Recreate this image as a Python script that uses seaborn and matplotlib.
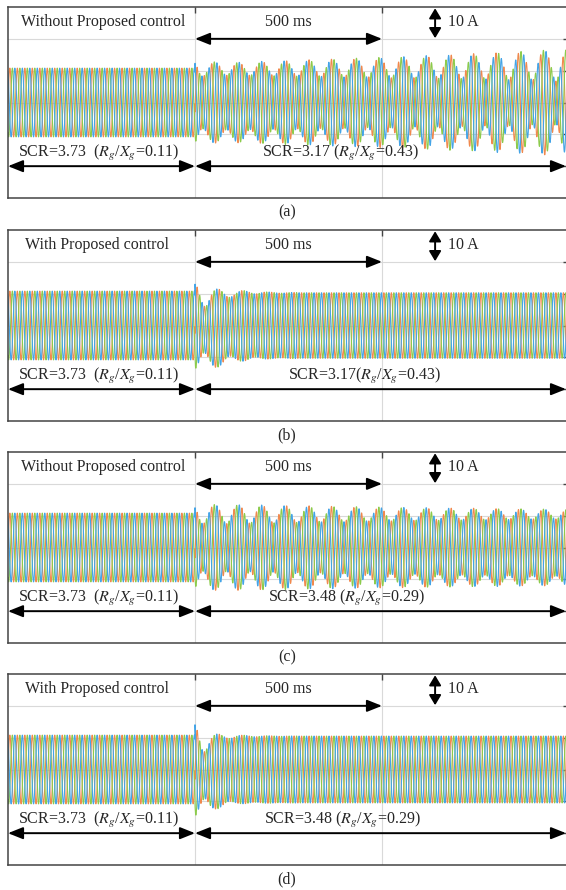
import numpy as np
import pandas as pd
import matplotlib
matplotlib.use("Agg")
import matplotlib.pyplot as plt
import seaborn as sns

# ---------------- data ----------------
panel_labels = ["(a)", "(b)", "(c)", "(d)"]
control_labels = ["Without Proposed control", "With Proposed control",
                  "Without Proposed control", "With Proposed control"]
scr_before = "SCR=3.73  ($R_g$/$X_g$=0.11)"
scr_after = ["SCR=3.17 ($R_g$/$X_g$=0.43)", "SCR=3.17($R_g$/$X_g$=0.43)",
             "SCR=3.48 ($R_g$/$X_g$=0.29)", "SCR=3.48 ($R_g$/$X_g$=0.29)"]
time_label = "500 ms"
amp_label = "10 A"

grid_freq = 50.0          # Hz fundamental
t_change = 0.5            # s, instant of grid change
t_end = 1.5               # s, 3 divisions of 500 ms
pre_amp = 10.8            # A, current amplitude before change

# post-change envelope knots per panel: fundamental (A), oscillatory
# sub-synchronous component (A), offset (A)
a_knot_t = [0.50, 0.52, 0.60, 0.80, 1.00, 1.20, 1.40, 1.50]
a_fund   = [10.6, 10.6, 10.6, 10.8, 11.0, 11.3, 11.6, 11.8]
a_sso    = [3.5, 2.3, 2.0, 2.6, 3.2, 3.8, 4.6, 5.2]
a_offset = [0.0, 0.0, 0.0, 0.0, 0.0, 0.0, 0.0, 0.0]

b_knot_t = [0.50, 0.53, 0.56, 0.60, 0.65, 0.70, 0.80, 1.50]
b_fund   = [10.4, 10.4, 10.4, 10.4, 10.4, 10.3, 10.3, 10.3]
b_sso    = [4.0, 3.0, 1.9, 1.0, 0.5, 0.2, 0.0, 0.0]
b_offset = [0.0, -1.5, -0.8, -0.3, 0.0, 0.0, 0.0, 0.0]

c_knot_t = [0.50, 0.52, 0.60, 0.80, 1.00, 1.20, 1.40, 1.50]
c_fund   = [10.5, 10.5, 10.5, 10.5, 10.5, 10.5, 10.5, 10.5]
c_sso    = [3.8, 3.0, 3.0, 2.6, 2.2, 1.9, 1.6, 1.5]
c_offset = [0.0, 0.0, 0.0, 0.0, 0.0, 0.0, 0.0, 0.0]

d_knot_t = [0.50, 0.52, 0.55, 0.58, 0.62, 0.70, 0.80, 1.50]
d_fund   = [10.5, 10.5, 10.5, 10.5, 10.5, 10.5, 10.5, 10.5]
d_sso    = [5.0, 3.5, 1.5, 0.8, 0.3, 0.1, 0.0, 0.0]
d_offset = [0.0, -2.0, -0.8, -0.2, 0.0, 0.0, 0.0, 0.0]

beat_hz = [15.9, 14.7, 15.9, 14.7]        # envelope oscillation frequency
beat_phase = [-0.99, -0.65, -0.99, -0.65]  # rad, at change instant

scr_after_x = [0.888, 0.952, 0.904, 0.893]   # data x (s)
control_x = [0.254, 0.238, 0.254, 0.238]
phase_colors = ["#F0894E", "#8CCB4C", "#44A4E6"]
phase_names = ["a", "b", "c"]

knots = [(a_knot_t, a_fund, a_sso, a_offset), (b_knot_t, b_fund, b_sso, b_offset),
         (c_knot_t, c_fund, c_sso, c_offset), (d_knot_t, d_fund, d_sso, d_offset)]

# ---------------- figure ----------------
sns.set_theme(style="white")
plt.rcParams["font.family"] = ["Liberation Serif", "DejaVu Serif"]
plt.rcParams["mathtext.fontset"] = "stix"

W, H = 566, 890
fig = plt.figure(figsize=(W / 100, H / 100), dpi=100)
tops = [7, 230, 452, 674]
box_h = 191
left_px = 8
width_px = 561

t = np.linspace(0, t_end, 12001)
w0 = 2 * np.pi * grid_freq

for i in range(4):
    ax = fig.add_axes([left_px / W, 1 - (tops[i] + box_h) / H, width_px / W, box_h / H])
    kt, kf, ks, kd = knots[i]
    F = np.where(t < t_change, pre_amp, np.interp(t, kt, kf))
    S = np.where(t < t_change, 0.0, np.interp(t, kt, ks))
    D = np.where(t < t_change, 0.0, np.interp(t, kt, kd))
    dw = 2 * np.pi * beat_hz[i]
    rows = []
    for k, name in enumerate(phase_names):
        th = 2 * np.pi * k / 3
        y = (F * np.sin(w0 * t - th)
             + S * np.sin(w0 * t - dw * (t - t_change) - th + beat_phase[i]) + D)
        rows.append(pd.DataFrame({"t": t, "i": y, "phase": name}))
    df = pd.concat(rows, ignore_index=True)
    sns.lineplot(data=df, x="t", y="i", hue="phase", palette=phase_colors,
                 estimator=None, sort=False, lw=0.8, legend=False, ax=ax)

    ax.set_xlim(0, t_end)
    ax.set_ylim(-30, 30)
    ax.set_xticks([0.5, 1.0])
    ax.set_yticks([-20, -10, 0, 10, 20])
    ax.grid(True, color="#d9d9d9", lw=0.8)
    ax.set_axisbelow(True)
    ax.tick_params(direction="in", length=4, width=1, top=True, right=True,
                   labelleft=False, labelbottom=False, color="#444444")
    ax.set_xlabel("")
    ax.set_ylabel("")
    for sp in ax.spines.values():
        sp.set_color("#444444")
        sp.set_linewidth(1.1)

    fs = 11.5
    arr = dict(arrowstyle="<|-|>,head_length=0.75,head_width=0.3", color="black",
               lw=1.4, shrinkA=0, shrinkB=0)
    varr = dict(arrowstyle="<|-|>,head_length=0.5,head_width=0.3", color="black",
                lw=1.4, shrinkA=0, shrinkB=0)
    ax.text(control_x[i], 25.3, control_labels[i], ha="center", va="center", fontsize=fs)
    ax.text(0.75, 25.3, time_label, ha="center", va="center", fontsize=fs)
    ax.annotate("", xy=(1.0, 20), xytext=(0.5, 20), arrowprops=arr, annotation_clip=False)
    ax.annotate("", xy=(1.142, 29.6), xytext=(1.142, 20.2), arrowprops=varr, annotation_clip=False)
    ax.text(1.176, 25.3, amp_label, ha="left", va="center", fontsize=fs)
    ax.text(0.243, -15.9, scr_before, ha="center", va="center", fontsize=fs)
    ax.text(scr_after_x[i], -15.9, scr_after[i], ha="center", va="center", fontsize=fs)
    ax.annotate("", xy=(0.5, -20), xytext=(0.0, -20), arrowprops=arr, annotation_clip=False)
    ax.annotate("", xy=(1.492, -20), xytext=(0.5, -20), arrowprops=arr, annotation_clip=False)

    fig.text(287 / W, 1 - (tops[i] + box_h + 14) / H, panel_labels[i],
             ha="center", va="center", fontsize=fs)

fig.savefig("out.png", dpi=100, facecolor="white")
